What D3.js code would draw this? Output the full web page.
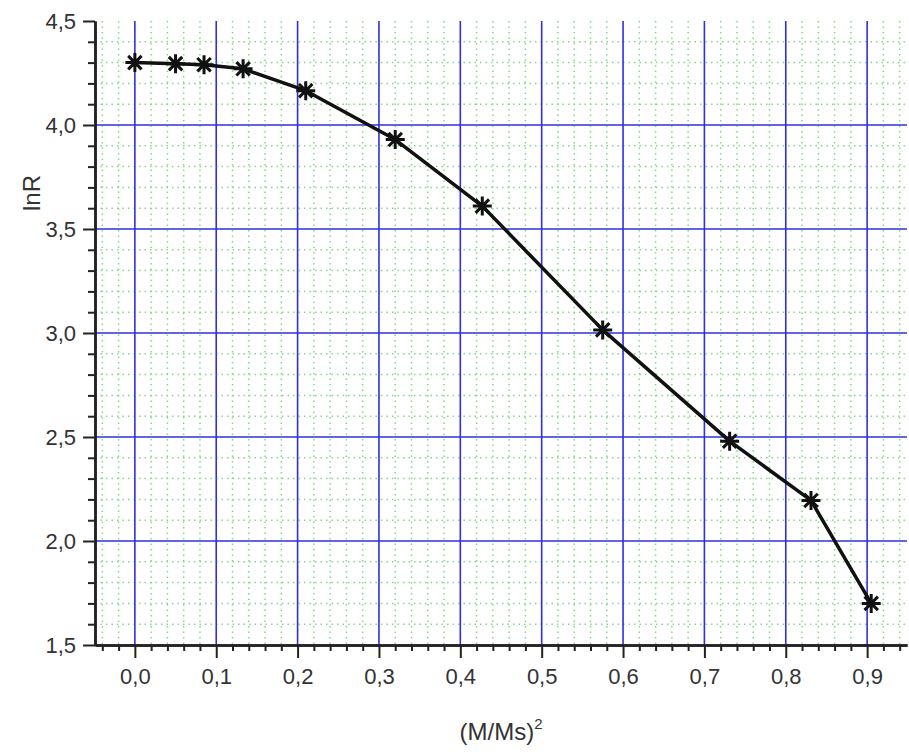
<!DOCTYPE html>
<html>
<head>
<meta charset="utf-8">
<script src="https://cdn.jsdelivr.net/npm/d3@7"></script>
<style>
  body { margin: 0; background: #fff; }
  text { font-family: 'Liberation Sans', Arial, sans-serif; fill: #333; }
</style>
</head>
<body>
<div id="chart"></div>
<script>
// data
let xValues = [0.0, 0.05, 0.085, 0.133, 0.21, 0.32, 0.427, 0.575, 0.731, 0.831, 0.905]
let lnR = [4.30, 4.295, 4.29, 4.27, 4.165, 3.93, 3.61, 3.015, 2.48, 2.195, 1.70]
let xTicks = [0, 0.1, 0.2, 0.3, 0.4, 0.5, 0.6, 0.7, 0.8, 0.9]
let yTicks = [1.5, 2.0, 2.5, 3.0, 3.5, 4.0, 4.5]

let W = 909, H = 754
let margin = { top: 21, left: 95, right: 2, bottom: 109 }
let width = W - margin.left - margin.right
let height = H - margin.top - margin.bottom

let svg = d3.select('#chart')
  .append('svg')
  .attr('width', W)
  .attr('height', H)

let g = svg.append('g')
  .attr('transform', 'translate(' + margin.left + ',' + margin.top + ')')

let x = d3.scaleLinear().domain([-0.049, 0.949]).range([0, width])
let y = d3.scaleLinear().domain([1.5, 4.5]).range([height, 0])

let fmt = d => d3.format('.1f')(d).replace('.', ',')

// minor grid - green dotted
let xMinor = d3.range(-0.04, 0.95, 0.02).filter(d => Math.abs(Math.round(d * 10) - d * 10) > 0.01)
let yMinor = d3.range(1.6, 4.5, 0.1).filter(d => Math.abs(Math.round(d * 2) - d * 2) > 0.01)

g.selectAll('.vminor').data(xMinor).enter().append('line')
  .attr('x1', d => x(d)).attr('x2', d => x(d))
  .attr('y1', 0).attr('y2', height)
  .attr('stroke', '#86d886').attr('stroke-width', 1.5)
  .attr('stroke-dasharray', '1.5,4')

g.selectAll('.hminor').data(yMinor).enter().append('line')
  .attr('x1', 0).attr('x2', width)
  .attr('y1', d => y(d)).attr('y2', d => y(d))
  .attr('stroke', '#86d886').attr('stroke-width', 1.5)
  .attr('stroke-dasharray', '1.5,4')

// major grid - blue
g.selectAll('.vmajor').data(xTicks).enter().append('line')
  .attr('x1', d => x(d)).attr('x2', d => x(d))
  .attr('y1', 0).attr('y2', height)
  .attr('stroke', '#2f2fe0').attr('stroke-width', 1.6)

g.selectAll('.hmajor').data(yTicks.filter(d => d > 1.5 && d < 4.5)).enter().append('line')
  .attr('x1', 0).attr('x2', width)
  .attr('y1', d => y(d)).attr('y2', d => y(d))
  .attr('stroke', '#2f2fe0').attr('stroke-width', 1.6)

// axes
let xAxis = d3.axisBottom(x).tickValues(xTicks).tickFormat(fmt).tickSize(13).tickSizeOuter(0).tickPadding(10)
let xAxisMinor = d3.axisBottom(x).tickValues(xMinor).tickFormat('').tickSize(6).tickSizeOuter(0)
let yAxis = d3.axisLeft(y).tickValues(yTicks).tickFormat(fmt).tickSize(12).tickSizeOuter(0).tickPadding(7)
let yAxisMinor = d3.axisLeft(y).tickValues(yMinor).tickFormat('').tickSize(7).tickSizeOuter(0)

g.append('g').attr('transform', 'translate(0,' + height + ')').call(xAxisMinor)
g.append('g').attr('transform', 'translate(0,' + height + ')').attr('class', 'xaxis').call(xAxis)
g.append('g').call(yAxisMinor)
g.append('g').attr('class', 'yaxis').call(yAxis)

g.selectAll('.domain').attr('stroke', '#222').attr('stroke-width', 2.5)
g.selectAll('.tick line').attr('stroke', '#222').attr('stroke-width', 2)
g.selectAll('.tick text').style('font-size', '22px').attr('fill', '#333')

// line
let points = xValues.map((d, i) => ({ x: d, y: lnR[i] }))
let line = d3.line().x(d => x(d.x)).y(d => y(d.y))

g.append('path')
  .datum(points)
  .attr('d', line)
  .attr('fill', 'none')
  .attr('stroke', '#111')
  .attr('stroke-width', 3.5)
  .attr('stroke-linejoin', 'round')

// 8-arm star marker
let star = {
  draw: function(context, size) {
    let r = Math.sqrt(size) / 2
    let k = r * Math.SQRT1_2
    context.moveTo(-r, 0); context.lineTo(r, 0)
    context.moveTo(0, -r); context.lineTo(0, r)
    context.moveTo(-k, -k); context.lineTo(k, k)
    context.moveTo(-k, k); context.lineTo(k, -k)
  }
}

g.selectAll('.marker').data(points).enter().append('path')
  .attr('transform', d => 'translate(' + x(d.x) + ',' + y(d.y) + ')')
  .attr('d', d3.symbol().type(star).size(361))
  .attr('fill', 'none')
  .attr('stroke', '#111')
  .attr('stroke-width', 3)

// axis titles
svg.append('text')
  .attr('transform', 'translate(40,' + (margin.top + y(4.0) + 68) + ') rotate(-90)')
  .attr('text-anchor', 'middle')
  .style('font-size', '24px')
  .text('lnR')

let xt = svg.append('text')
  .attr('x', margin.left + x(0.45))
  .attr('y', 740)
  .attr('text-anchor', 'middle')
  .style('font-size', '24px')
xt.append('tspan').text('(M/Ms)')
xt.append('tspan').attr('dy', -11).style('font-size', '15px').text('2')
</script>
</body>
</html>
